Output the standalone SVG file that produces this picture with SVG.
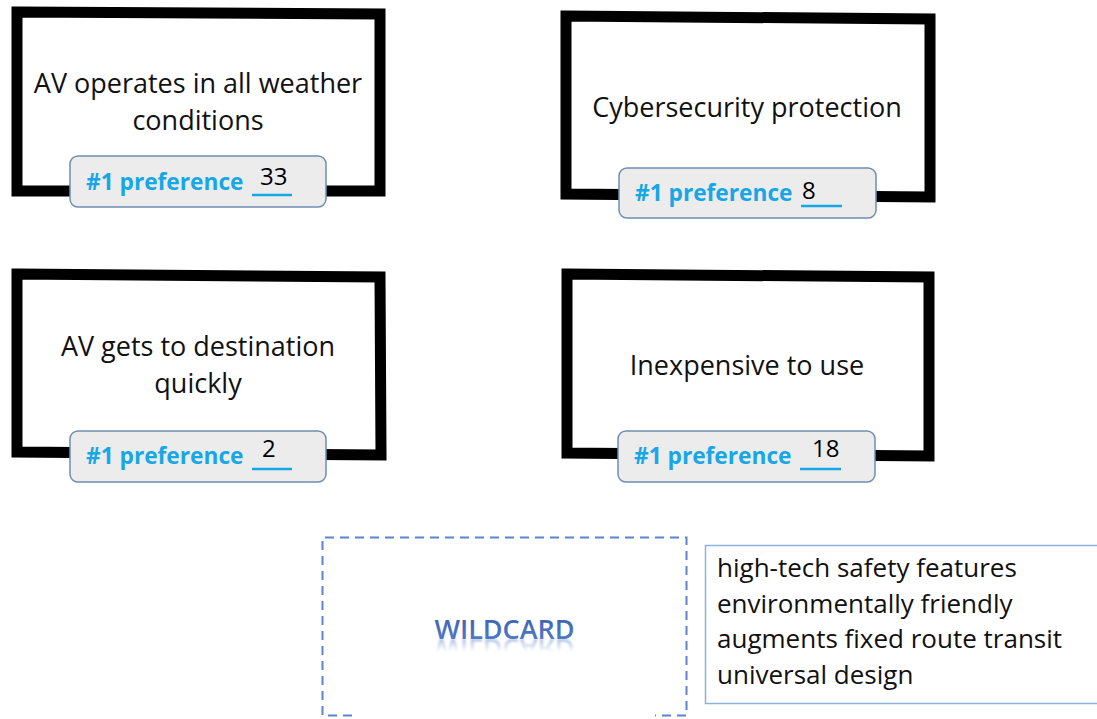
<svg xmlns="http://www.w3.org/2000/svg" xmlns:xlink="http://www.w3.org/1999/xlink" width="1097" height="719" viewBox="0 0 1097 719">
  <defs>
    <style>
      .card { fill: #ffffff; stroke: #000000; stroke-width: 11; stroke-linejoin: miter; }
      .badge { fill: #ececec; stroke: #6f8db2; stroke-width: 1.5; }
      .blank { stroke: #17a6e6; stroke-width: 2.6; }
      .main { font-family: "Open Sans", "Liberation Sans", sans-serif; font-size: 27px; fill: #111111; text-anchor: middle; }
      .pref { font-family: "Open Sans", "Liberation Sans", sans-serif; font-size: 22.7px; font-weight: bold; fill: #17a6e6; }
      .num { font-family: "Open Sans", "Liberation Sans", sans-serif; font-size: 24px; fill: #000000; }
      .list { font-family: "Open Sans", "Liberation Sans", sans-serif; font-size: 26px; fill: #111111; }
      .wild { font-family: "Open Sans", "Liberation Sans", sans-serif; font-size: 27px; font-weight: 600; text-anchor: middle; }
    </style>
    <linearGradient id="wildFill" x1="0" y1="0" x2="0" y2="1">
      <stop offset="0" stop-color="#3a5da6"/>
      <stop offset="1" stop-color="#5580cf"/>
    </linearGradient>
    <linearGradient id="fade" x1="0" y1="0" x2="0" y2="1">
      <stop offset="0" stop-color="#ffffff" stop-opacity="0.5"/>
      <stop offset="1" stop-color="#ffffff" stop-opacity="0"/>
    </linearGradient>
    <mask id="reflMask" maskUnits="userSpaceOnUse" x="400" y="636" width="220" height="20">
      <rect x="400" y="638" width="220" height="14" fill="url(#fade)"/>
    </mask>
    <filter id="soft" x="-10%" y="-50%" width="120%" height="200%">
      <feGaussianBlur stdDeviation="0.8"/>
    </filter>
  </defs>

  <!-- card 1 -->
  <g id="card-weather">
    <polygon class="card" points="17,12 380,14 380,191 17,191"/>
    <text class="main" x="198" y="93">AV operates in all weather</text>
    <text class="main" x="198" y="130">conditions</text>
    <rect class="badge" x="70" y="156" width="256" height="51" rx="8"/>
    <text class="pref" x="86" y="190">#1 preference</text>
    <line class="blank" x1="252" y1="195" x2="292" y2="195"/>
    <text class="num" x="260" y="185">33</text>
  </g>

  <!-- card 2 -->
  <g id="card-cyber">
    <polygon class="card" points="566,16 930,19 930,197 566,194"/>
    <text class="main" x="747" y="117">Cybersecurity protection</text>
    <rect class="badge" x="619" y="168" width="257" height="50" rx="8"/>
    <text class="pref" x="635" y="201">#1 preference</text>
    <line class="blank" x1="801" y1="206" x2="842" y2="206"/>
    <text class="num" x="802" y="199">8</text>
  </g>

  <!-- card 3 -->
  <g id="card-quick">
    <polygon class="card" points="17,274 380,277 381,455 17,452"/>
    <text class="main" x="198" y="356">AV gets to destination</text>
    <text class="main" x="198" y="393">quickly</text>
    <rect class="badge" x="70" y="431" width="256" height="51" rx="8"/>
    <text class="pref" x="86" y="464">#1 preference</text>
    <line class="blank" x1="252" y1="469" x2="292" y2="469"/>
    <text class="num" x="262" y="457">2</text>
  </g>

  <!-- card 4 -->
  <g id="card-cost">
    <polygon class="card" points="567,274 929,277 929,456 567,453"/>
    <text class="main" x="747" y="375">Inexpensive to use</text>
    <rect class="badge" x="618" y="431" width="257" height="51" rx="8"/>
    <text class="pref" x="634" y="464">#1 preference</text>
    <line class="blank" x1="800" y1="469" x2="841" y2="469"/>
    <text class="num" x="812" y="457">18</text>
  </g>

  <!-- wildcard slot: dashed outline, title, and a faded mirror of the title -->
  <g id="wildcard">
    <path d="M 352 715.5 L 322.5 715.5 L 322.5 537.5 L 686.5 537.5 L 686.5 715.5 L 655 715.5" fill="none" stroke="#5b83cf" stroke-width="2" stroke-dasharray="9 6"/>
    <text id="wildTitle" class="wild" x="504.5" y="639" fill="url(#wildFill)">WILDCARD</text>
    <g mask="url(#reflMask)" filter="url(#soft)">
      <use href="#wildTitle" xlink:href="#wildTitle" transform="translate(0,1278) scale(1,-1)"/>
    </g>
  </g>

  <!-- wildcard options -->
  <g id="options">
    <rect x="705.5" y="545.5" width="400" height="158" fill="#ffffff" stroke="#8fb0dd" stroke-width="1.5"/>
    <text class="list" x="717" y="577">high-tech safety features</text>
    <text class="list" x="717" y="613">environmentally friendly</text>
    <text class="list" x="717" y="648">augments fixed route transit</text>
    <text class="list" x="717" y="684">universal design</text>
  </g>

  <g id="connectors"/>
</svg>
